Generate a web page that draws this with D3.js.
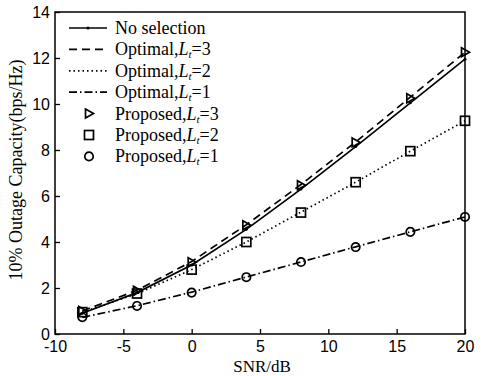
<!DOCTYPE html>
<html>
<head>
<meta charset="utf-8">
<script src="https://cdn.jsdelivr.net/npm/d3@7"></script>
<style>
  body { margin: 0; background: #fff; }
  .tick text { font-family: "Liberation Sans", Arial, sans-serif; font-size: 16px; fill: #000; }
</style>
</head>
<body>
<svg id="chart" width="486" height="376"></svg>
<script>
// data
const snr = [-8, -4, 0, 4, 8, 12, 16, 20];
const noSelection = [0.9, 1.8, 3.0, 4.55, 6.3, 8.15, 10.05, 11.95];
const optimal3 = [1.0, 1.9, 3.15, 4.75, 6.5, 8.35, 10.3, 12.25];
const optimal2 = [0.95, 1.75, 2.8, 4.0, 5.3, 6.6, 7.95, 9.27];
const optimal1 = [0.72, 1.23, 1.82, 2.48, 3.13, 3.79, 4.44, 5.09];
const proposed3 = [1.0, 1.88, 3.12, 4.73, 6.47, 8.33, 10.25, 12.25];
const proposed2 = [0.95, 1.76, 2.8, 4.0, 5.28, 6.6, 7.95, 9.27];
const proposed1 = [0.73, 1.22, 1.8, 2.47, 3.13, 3.78, 4.44, 5.09];
const xTicks = [-10, -5, 0, 5, 10, 15, 20];
const yTicks = [0, 2, 4, 6, 8, 10, 12, 14];

const svg = d3.select("#chart");
const margin = { top: 12, right: 21, bottom: 42, left: 55 };
const width = 486 - margin.left - margin.right;
const height = 376 - margin.top - margin.bottom;
const g = svg.append("g").attr("transform", "translate(" + margin.left + "," + margin.top + ")");

const x = d3.scaleLinear().domain([-10, 20]).range([0, width]);
const y = d3.scaleLinear().domain([0, 14]).range([height, 0]);

// axes, ticks point inward, plain hyphen minus
g.append("g")
  .attr("transform", "translate(0," + height + ")")
  .call(d3.axisBottom(x).tickValues(xTicks).tickFormat(d => String(d)).tickSizeInner(-5).tickSizeOuter(0).tickPadding(7))
  .call(a => a.select(".domain").remove());
g.append("g")
  .call(d3.axisLeft(y).tickValues(yTicks).tickFormat(d => String(d)).tickSizeInner(-5).tickSizeOuter(0).tickPadding(5))
  .call(a => a.select(".domain").remove());
g.selectAll(".tick line").attr("stroke", "#000").attr("stroke-width", 1.3);

g.append("rect")
  .attr("width", width).attr("height", height)
  .attr("fill", "none").attr("stroke", "#000").attr("stroke-width", 1.5);

const line = d3.line().x((d, i) => x(snr[i])).y(d => y(d));

const lines = [
  { label: "No selection", data: noSelection, dash: null },
  { label: "Optimal,", sub: "3", data: optimal3, dash: "8,5" },
  { label: "Optimal,", sub: "2", data: optimal2, dash: "1.5,3" },
  { label: "Optimal,", sub: "1", data: optimal1, dash: "8,3,1.5,3" }
];
lines.forEach(s => {
  g.append("path").datum(s.data)
    .attr("fill", "none").attr("stroke", "#000").attr("stroke-width", 1.7)
    .attr("stroke-dasharray", s.dash)
    .attr("d", line);
});

// tiny dots on the no-selection line
g.selectAll(".dot").data(noSelection).enter().append("circle")
  .attr("cx", (d, i) => x(snr[i])).attr("cy", d => y(d))
  .attr("r", 1.5).attr("fill", "#000");

function marker(sel, type) {
  if (type === "tri") {
    sel.append("path").attr("d", "M-3.5,-4.5L4.5,0L-3.5,4.5Z");
  } else if (type === "sq") {
    sel.append("rect").attr("x", -4.5).attr("y", -4.5).attr("width", 9).attr("height", 9);
  } else {
    sel.append("circle").attr("r", 4.2);
  }
  sel.selectAll("*").attr("fill", "none").attr("stroke", "#000").attr("stroke-width", 1.7);
}

const markerSets = [
  { label: "Proposed,", sub: "3", data: proposed3, type: "tri" },
  { label: "Proposed,", sub: "2", data: proposed2, type: "sq" },
  { label: "Proposed,", sub: "1", data: proposed1, type: "circ" }
];
markerSets.forEach(s => {
  s.data.forEach((d, i) => {
    const m = g.append("g").attr("transform", "translate(" + x(snr[i]) + "," + y(d) + ")");
    marker(m, s.type);
  });
});

// legend
const legend = svg.append("g").attr("transform", "translate(69,28)");
const rowH = 21.4;
const entries = lines.map(s => ({ ...s, kind: "line" })).concat(markerSets.map(s => ({ ...s, kind: "mark" })));
entries.forEach((e, i) => {
  const row = legend.append("g").attr("transform", "translate(0," + (i * rowH) + ")");
  if (e.kind === "line") {
    row.append("line").attr("x1", 0).attr("x2", 38)
      .attr("stroke", "#000").attr("stroke-width", 1.7)
      .attr("stroke-dasharray", e.dash);
    if (!e.dash) row.append("circle").attr("cx", 19).attr("r", 1.5).attr("fill", "#000");
  } else {
    const m = row.append("g").attr("transform", "translate(20,0)");
    marker(m, e.type);
  }
  const t = row.append("text").attr("x", 46).attr("y", 6)
    .attr("font-family", "'Liberation Serif', 'Times New Roman', serif")
    .attr("font-size", 18).attr("fill", "#000");
  t.append("tspan").text(e.label);
  if (e.sub) {
    t.append("tspan").attr("font-style", "italic").text("L");
    t.append("tspan").attr("font-style", "italic").attr("font-size", 11).attr("dy", 3).text("t");
    t.append("tspan").attr("dy", -3).text("=" + e.sub);
  }
});

// axis titles
svg.append("text")
  .attr("x", margin.left + width / 2 + 2).attr("y", 372)
  .attr("text-anchor", "middle")
  .attr("font-family", "'Liberation Serif', 'Times New Roman', serif")
  .attr("font-size", 17).text("SNR/dB");
svg.append("text")
  .attr("transform", "translate(22,170) rotate(-90)")
  .attr("text-anchor", "middle")
  .attr("font-family", "'Liberation Serif', 'Times New Roman', serif")
  .attr("font-size", 18).text("10% Outage Capacity(bps/Hz)");
</script>
</body>
</html>
